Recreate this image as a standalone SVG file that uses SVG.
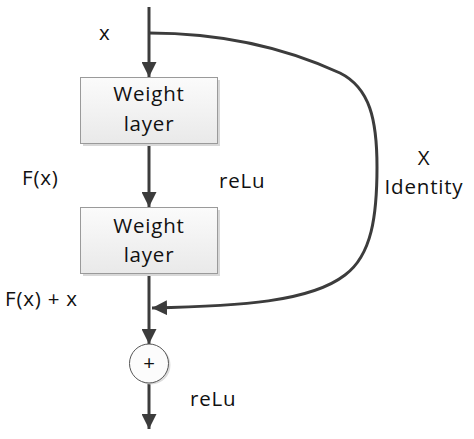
<svg xmlns="http://www.w3.org/2000/svg" width="474" height="439" viewBox="0 0 474 439">
<style>
text{font-family:"Open Sans","Liberation Sans",Arial,sans-serif;font-size:20.5px;fill:#111;letter-spacing:0.8px}
.c{text-anchor:middle}
.box{fill:url(#g);stroke:#9a9a9a;stroke-width:1}
.ln{fill:none;stroke:#3c3c3c;stroke-width:3}
</style>
<defs>
<linearGradient id="g" x1="0" y1="0" x2="0" y2="1"><stop offset="0" stop-color="#fbfbfb"/><stop offset="1" stop-color="#e9e9e9"/></linearGradient>
<marker id="a" viewBox="0 0 10 10" refX="10" refY="5" markerWidth="5" markerHeight="5" orient="auto" markerUnits="strokeWidth"><path d="M0,0L10,5L0,10z" fill="#3c3c3c"/></marker>
</defs>
<rect width="474" height="439" fill="#fff"/>
<g id="connectors">
<path class="ln" d="M149,7V77" marker-end="url(#a)"/>
<path class="ln" d="M149,144V207" marker-end="url(#a)"/>
<path class="ln" d="M149,274V344" marker-end="url(#a)"/>
<path class="ln" d="M149,383V429" marker-end="url(#a)"/>
<path class="ln" d="M149,33C230,33 290,50 340,73C370,88 377,120 377,167C377,215 372,255 345,275C310,302 240,306 152,308" marker-end="url(#a)"/>
</g>
<g id="box1">
<rect x="83" y="80" width="137" height="66" fill="#d8d8d8"/>
<rect class="box" x="80.5" y="77.5" width="137" height="66"/>
<text class="c" x="149" y="101">Weight</text>
<text class="c" x="149" y="131">layer</text>
</g>
<g id="box2">
<rect x="83" y="210" width="137" height="66" fill="#d8d8d8"/>
<rect class="box" x="80.5" y="207.5" width="137" height="66"/>
<text class="c" x="149" y="233">Weight</text>
<text class="c" x="149" y="262">layer</text>
</g>
<g id="sum">
<circle cx="151" cy="365" r="19.5" fill="#dcdcdc"/>
<circle cx="149" cy="363.5" r="19.5" fill="#fcfcfc" stroke="#555" stroke-width="1"/>
<text class="c" x="149" y="370" font-size="18" style="letter-spacing:0">+</text>
</g>
<g id="labels">
<text x="99" y="40">x</text>
<text x="22" y="185">F(x)</text>
<text x="219" y="188">reLu</text>
<text x="5" y="306">F(x) + x</text>
<text x="190" y="406">reLu</text>
<text class="c" x="424" y="165">X</text>
<text class="c" x="424" y="194">Identity</text>
</g>
</svg>
